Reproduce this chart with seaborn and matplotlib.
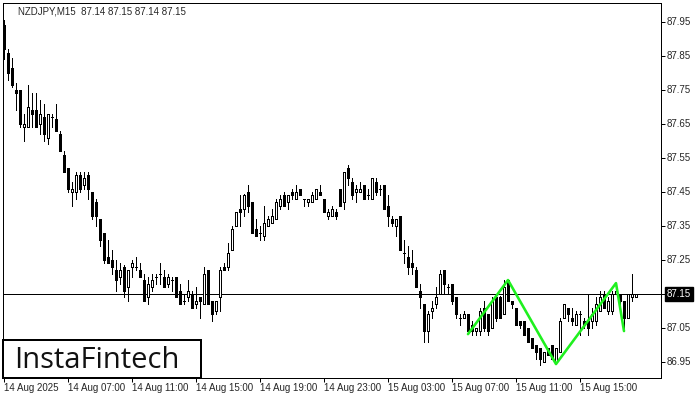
import numpy as np
import pandas as pd
import matplotlib
matplotlib.use("Agg")
import matplotlib.pyplot as plt
import seaborn as sns
from matplotlib.patches import Rectangle

# --- NZDJPY M15 CANDLES, first bar 14 Aug 03:00 --- #
opens = [
    87.94, 87.86, 87.815, 87.75, 87.75, 87.64, 87.64, 87.69, 87.69, 87.65,
    87.67, 87.61, 87.67, 87.665, 87.62, 87.56, 87.52, 87.45, 87.45, 87.50,
    87.47, 87.50, 87.45, 87.42, 87.37, 87.33, 87.26, 87.25, 87.22, 87.20,
    87.23, 87.17, 87.23, 87.23, 87.22, 87.19, 87.14, 87.17, 87.20, 87.21,
    87.20, 87.18, 87.19, 87.20, 87.16, 87.13, 87.14, 87.15, 87.12, 87.14,
    87.12, 87.22, 87.13, 87.10, 87.14, 87.23, 87.23, 87.28, 87.35, 87.40,
    87.40, 87.45, 87.42, 87.34, 87.33, 87.32, 87.35, 87.36, 87.37, 87.41,
    87.44, 87.42, 87.45, 87.43, 87.46, 87.43, 87.42, 87.42, 87.43, 87.45,
    87.43, 87.38, 87.38, 87.39, 87.46, 87.42, 87.52, 87.48, 87.45, 87.45,
    87.47, 87.44, 87.43, 87.48, 87.46, 87.47, 87.41, 87.37, 87.35, 87.38,
    87.27, 87.26, 87.24, 87.22, 87.16, 87.12, 87.04, 87.10, 87.12, 87.15,
    87.22, 87.17, 87.18, 87.14, 87.08, 87.08, 87.09, 87.06, 87.04, 87.04,
    87.11, 87.09, 87.05, 87.14, 87.14, 87.09, 87.19, 87.13, 87.11, 87.07,
    87.07, 87.05, 87.02, 87.00, 86.99, 86.95, 86.99, 87.00, 86.95, 86.98,
    87.08, 87.11, 87.08, 87.06, 87.09, 87.07, 87.07, 87.07, 87.07, 87.10,
    87.15, 87.10, 87.10, 87.15, 87.15, 87.13, 87.08, 87.14, 87.14,
]
highs = [
    87.955, 87.87, 87.845, 87.77, 87.75, 87.68, 87.765, 87.74, 87.74, 87.72,
    87.71, 87.68, 87.68, 87.71, 87.63, 87.57, 87.52, 87.48, 87.51, 87.51,
    87.51, 87.51, 87.45, 87.43, 87.37, 87.33, 87.31, 87.28, 87.25, 87.24,
    87.235, 87.22, 87.25, 87.26, 87.24, 87.21, 87.20, 87.21, 87.21, 87.24,
    87.22, 87.21, 87.20, 87.20, 87.18, 87.15, 87.19, 87.16, 87.17, 87.14,
    87.23, 87.22, 87.13, 87.13, 87.23, 87.24, 87.30, 87.35, 87.39, 87.44,
    87.445, 87.47, 87.42, 87.37, 87.35, 87.41, 87.38, 87.40, 87.43, 87.44,
    87.45, 87.44, 87.46, 87.47, 87.46, 87.43, 87.43, 87.45, 87.46, 87.47,
    87.43, 87.40, 87.41, 87.40, 87.46, 87.51, 87.53, 87.49, 87.47, 87.48,
    87.47, 87.46, 87.49, 87.49, 87.47, 87.47, 87.44, 87.38, 87.37, 87.38,
    87.31, 87.29, 87.28, 87.23, 87.18, 87.12, 87.10, 87.13, 87.17, 87.22,
    87.22, 87.18, 87.18, 87.14, 87.09, 87.10, 87.09, 87.07, 87.05, 87.11,
    87.13, 87.09, 87.14, 87.14, 87.145, 87.19, 87.19, 87.13, 87.11, 87.07,
    87.07, 87.05, 87.02, 87.00, 86.99, 86.98, 86.99, 87.00, 86.99, 87.08,
    87.12, 87.11, 87.11, 87.10, 87.10, 87.08, 87.15, 87.11, 87.14, 87.16,
    87.16, 87.14, 87.16, 87.18, 87.15, 87.13, 87.15, 87.21, 87.15,
]
lows = [
    87.84, 87.78, 87.76, 87.69, 87.64, 87.60, 87.64, 87.64, 87.64, 87.62,
    87.60, 87.59, 87.64, 87.63, 87.57, 87.51, 87.45, 87.41, 87.43, 87.45,
    87.46, 87.43, 87.37, 87.35, 87.29, 87.24, 87.24, 87.21, 87.16, 87.18,
    87.14, 87.13, 87.20, 87.22, 87.20, 87.13, 87.12, 87.16, 87.18, 87.18,
    87.17, 87.17, 87.16, 87.14, 87.12, 87.12, 87.13, 87.11, 87.11, 87.08,
    87.12, 87.12, 87.07, 87.09, 87.10, 87.22, 87.22, 87.28, 87.35, 87.35,
    87.38, 87.39, 87.33, 87.32, 87.31, 87.31, 87.35, 87.36, 87.37, 87.40,
    87.41, 87.40, 87.43, 87.43, 87.44, 87.41, 87.41, 87.42, 87.43, 87.44,
    87.39, 87.37, 87.38, 87.37, 87.41, 87.40, 87.47, 87.43, 87.42, 87.45,
    87.43, 87.43, 87.43, 87.44, 87.44, 87.40, 87.35, 87.35, 87.32, 87.28,
    87.24, 87.21, 87.21, 87.17, 87.11, 87.01, 87.01, 87.08, 87.11, 87.15,
    87.15, 87.15, 87.12, 87.08, 87.06, 87.08, 87.04, 87.03, 87.03, 87.03,
    87.04, 87.03, 87.05, 87.07, 87.08, 87.09, 87.13, 87.11, 87.06, 87.05,
    87.03, 87.01, 86.99, 86.96, 86.94, 86.95, 86.97, 86.96, 86.945, 86.98,
    87.08, 87.07, 87.06, 87.06, 87.03, 87.05, 87.03, 87.05, 87.06, 87.10,
    87.11, 87.09, 87.09, 87.15, 87.11, 87.04, 87.08, 87.13, 87.14,
]
closes = [
    87.87, 87.80, 87.765, 87.74, 87.65, 87.65, 87.70, 87.68, 87.64, 87.68,
    87.62, 87.68, 87.67, 87.63, 87.57, 87.51, 87.46, 87.46, 87.50, 87.46,
    87.49, 87.46, 87.38, 87.38, 87.31, 87.25, 87.24, 87.23, 87.19, 87.22,
    87.16, 87.22, 87.24, 87.23, 87.20, 87.13, 87.18, 87.19, 87.20, 87.21,
    87.17, 87.20, 87.19, 87.14, 87.12, 87.13, 87.16, 87.11, 87.13, 87.13,
    87.21, 87.12, 87.09, 87.13, 87.22, 87.22, 87.27, 87.34, 87.39, 87.39,
    87.44, 87.41, 87.33, 87.32, 87.33, 87.36, 87.37, 87.38, 87.42, 87.43,
    87.41, 87.44, 87.44, 87.45, 87.44, 87.43, 87.43, 87.44, 87.46, 87.44,
    87.39, 87.39, 87.40, 87.38, 87.41, 87.51, 87.49, 87.44, 87.46, 87.46,
    87.43, 87.44, 87.49, 87.45, 87.46, 87.40, 87.38, 87.36, 87.37, 87.28,
    87.27, 87.23, 87.23, 87.17, 87.14, 87.04, 87.09, 87.11, 87.14, 87.21,
    87.18, 87.17, 87.13, 87.09, 87.08, 87.09, 87.04, 87.04, 87.05, 87.10,
    87.05, 87.04, 87.13, 87.08, 87.08, 87.17, 87.13, 87.12, 87.06, 87.06,
    87.03, 87.01, 86.99, 86.98, 86.96, 86.98, 86.97, 86.96, 86.99, 87.07,
    87.12, 87.09, 87.07, 87.09, 87.09, 87.06, 87.05, 87.09, 87.12, 87.14,
    87.11, 87.13, 87.15, 87.16, 87.13, 87.08, 87.15, 87.15, 87.15,
]

# --- PATTERN LINE (bar index, price) --- #
pattern_bars = [116, 126, 138, 153, 155]
pattern_prices = [87.032, 87.191, 86.944, 87.182, 87.041]

# --- AXIS TEXT --- #
x_tick_bars = [0, 16, 32, 48, 64, 80, 96, 112, 128, 144]
x_tick_labels = ["14 Aug 2025", "14 Aug 07:00", "14 Aug 11:00", "14 Aug 15:00",
                 "14 Aug 19:00", "14 Aug 23:00", "15 Aug 03:00", "15 Aug 07:00",
                 "15 Aug 11:00", "15 Aug 15:00"]
y_ticks = [87.95, 87.85, 87.75, 87.65, 87.55, 87.45, 87.35, 87.25, 87.15, 87.05, 86.95]
current_price = 87.15
title = "NZDJPY,M15  87.14 87.15 87.14 87.15"

# ========================================================================================= #

sns.set_style("white")
plt.rcParams["font.family"] = ["Liberation Sans", "DejaVu Sans"]

W, H = 700, 400
PX = 72 / 100  # one pixel in points
fig = plt.figure(figsize=(7, 4), dpi=100)
fig.patch.set_facecolor("white")

# axes frame in pixels: x 3..661, y 3..378
ax = fig.add_axes([3 / W, 22 / H, 658 / W, 375 / H])
ax.set_xlim(-0.25, 164.25)
ax.set_ylim(86.95 - 16 / 340, 87.95 + 19 / 340)
for s in ax.spines.values():
    s.set_color("black")
    s.set_linewidth(PX)

df = pd.DataFrame({"open": opens, "high": highs, "low": lows, "close": closes})
df["bar"] = np.arange(len(df))

# --- WICKS --- #
ax.vlines(df["bar"], df["low"], df["high"], color="black", linewidth=PX, zorder=2,
          antialiased=False)

# --- BODIES --- #
for _, r in df.iterrows():
    lo = min(r["open"], r["close"])
    hi = max(r["open"], r["close"])
    face = "white" if r["close"] > r["open"] else "black"
    if hi - lo < 0.002:
        ax.hlines(lo, r["bar"] - 0.3, r["bar"] + 0.3, color="black", linewidth=PX, zorder=3,
                  antialiased=False)
    else:
        ax.add_patch(Rectangle((r["bar"] - 0.3, lo), 0.6, hi - lo, facecolor=face,
                               edgecolor="black", linewidth=PX, zorder=3, antialiased=False))

# --- CURRENT PRICE LINE --- #
ax.axhline(current_price, color="black", linewidth=PX, zorder=1, antialiased=False)

# --- PATTERN --- #
pat = pd.DataFrame({"bar": pattern_bars, "price": pattern_prices})
sns.lineplot(data=pat, x="bar", y="price", ax=ax, color="#1ff01f", linewidth=2.6 * PX, zorder=5,
             sort=False)

# --- TICKS --- #
ax.set_xlabel("")
ax.set_ylabel("")
ax.set_xticks(x_tick_bars)
ax.set_xticklabels([])
ax.set_yticks(y_ticks)
ax.set_yticklabels([])
ax.tick_params(axis="x", direction="out", length=3, width=PX, color="black", bottom=True)
ax.tick_params(axis="y", direction="out", length=3, width=PX, color="black",
               left=False, right=True)

fs = 7
for b, lab in zip(x_tick_bars, x_tick_labels):
    ax.annotate(lab, xy=(b, 0), xycoords=("data", "axes fraction"), xytext=(0, -5),
                textcoords="offset pixels", ha="left", va="top", fontsize=fs)
for v in y_ticks:
    if v == current_price:
        continue
    ax.annotate(f"{v:.2f}", xy=(1, v), xycoords=("axes fraction", "data"), xytext=(6, 0),
                textcoords="offset pixels", ha="left", va="center", fontsize=fs)

# price box
ax.annotate(f"{current_price:.2f}", xy=(1, current_price), xycoords=("axes fraction", "data"),
            xytext=(6, 0), textcoords="offset pixels", ha="left", va="center",
            fontsize=fs, color="white",
            bbox=dict(boxstyle="square,pad=0.2", facecolor="black", edgecolor="black"))

# title
fig.text(18 / W, 1 - 12 / H, title, ha="left", va="center", fontsize=fs)

# --- LOGO BOX --- #
fig.patches.append(Rectangle((3 / W, 1 - 378 / H), 198 / W, 38 / H, transform=fig.transFigure,
                             facecolor="white", edgecolor="black", linewidth=2 * PX, zorder=10))
fig.text(97 / W, 1 - 360 / H, "InstaFintech", ha="center", va="center", fontsize=21,
         family=["Open Sans", "DejaVu Sans"], color="#111111", zorder=11)

fig.savefig("out.png", dpi=100)
